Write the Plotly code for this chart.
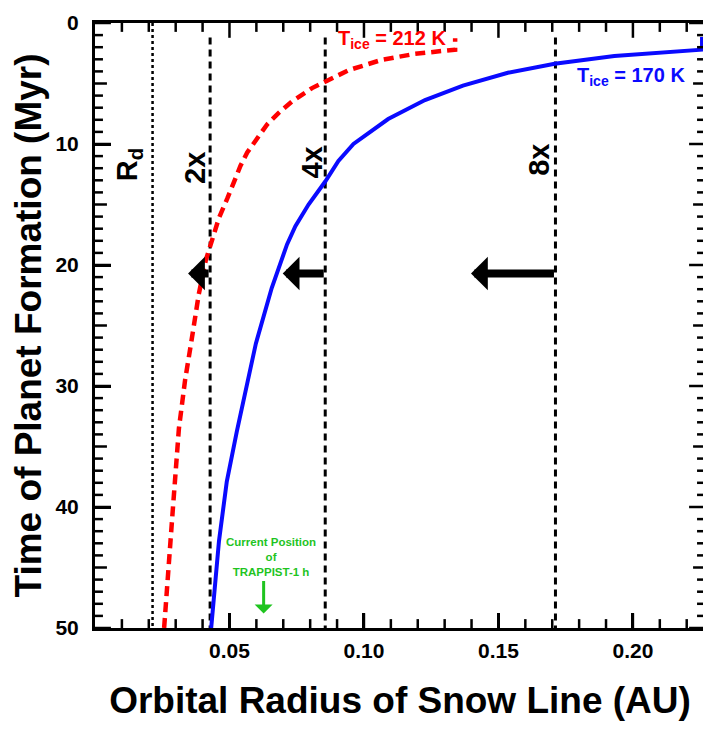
import plotly.graph_objects as go

# ---- data ----
blue_x = [0.0432, 0.0461, 0.0490, 0.0527, 0.0598, 0.0657, 0.0714, 0.0745, 0.0794,
          0.0856, 0.0905, 0.0961, 0.1090, 0.1227, 0.1368, 0.1535, 0.1709, 0.1931,
          0.2257, 0.2257]
blue_y = [50.0, 42.8, 37.9, 33.8, 26.5, 21.9, 18.3, 16.8, 15.0,
          13.1, 11.4, 10.0, 7.94, 6.37, 5.17, 4.11, 3.37, 2.72,
          2.2, 1.15]

red_x = [0.0257, 0.0275, 0.0290, 0.0312, 0.0335, 0.0357, 0.0386, 0.0412, 0.0436,
         0.0461, 0.0492, 0.0517, 0.0541, 0.0566, 0.0603, 0.0640, 0.0683, 0.0733,
         0.0807, 0.0856, 0.0899, 0.0943, 0.1065, 0.1190, 0.1339, 0.1339]
red_y = [50.0, 43.9, 40.0, 33.5, 29.5, 26.5, 22.4, 19.6, 17.8,
         16.1, 14.5, 13.0, 11.8, 10.7, 9.47, 8.38, 7.43, 6.47,
         5.38, 4.84, 4.29, 3.9, 3.05, 2.55, 2.2, 1.25]

guide_labels = ["R<sub>d</sub>", "2x", "4x", "8x"]
guide_x = [0.0214, 0.0428, 0.0856, 0.1712]
guide_top = [0.0, 1.2, 1.2, 1.2]
guide_bottom = 50.0

arrow_tip_x = [0.0346, 0.0698, 0.1398]
arrow_tail_x = [0.0428, 0.0856, 0.1712]
arrow_y = 20.7

trappist_h_x = 0.0627

x_tickvals = [0.05, 0.10, 0.15, 0.20]
x_ticktext = ["0.05", "0.10", "0.15", "0.20"]
x_minor_ticks = [0.01, 0.02, 0.03, 0.04, 0.06, 0.07, 0.08, 0.09, 0.11, 0.12, 0.13,
                 0.14, 0.16, 0.17, 0.18, 0.19, 0.21, 0.22]
y_major_ticks = [0, 10, 20, 30, 40, 50]
y_mid_ticks = [5, 15, 25, 35, 45]
y_minor_ticks = [v for v in range(1, 50) if v % 5 != 0]

FONT = "Liberation Sans, Arial, sans-serif"

# figure geometry (the page body adds an 8px margin, so the figure is sized to fit)
W, H = 703, 721
ML, MR, MT, MB = 87, 3, 7, 101
X_RANGE = [0, 0.2268]
Y_RANGE = [50, 0]
px_per_x = (W - ML - MR) / (X_RANGE[1] - X_RANGE[0])
px_per_y = (H - MT - MB) / (Y_RANGE[0] - Y_RANGE[1])

fig = go.Figure()

# guide lines
for i, gx in enumerate(guide_x):
    fig.add_trace(go.Scatter(
        x=[gx, gx], y=[guide_top[i], guide_bottom], mode="lines",
        line=dict(color="black", width=2.5 if i == 0 else 3,
                  dash="3px,3px" if i == 0 else "7px,5px"),
        hoverinfo="skip", showlegend=False))

# snow-line curves
fig.add_trace(go.Scatter(x=red_x, y=red_y, mode="lines",
                         line=dict(color="#ff0000", width=4.5, dash="10px,6px"),
                         showlegend=False))
fig.add_trace(go.Scatter(x=blue_x, y=blue_y, mode="lines",
                         line=dict(color="#0a0aff", width=4),
                         showlegend=False))

# inward tick marks on all four sides of the frame, one short segment each
TICK_LINE = dict(color="black", width=2.5)
for vals, length in [(x_tickvals, 15), (x_minor_ticks, 9)]:
    d = length / px_per_y
    for v in vals:
        fig.add_trace(go.Scatter(x=[v, v], y=[Y_RANGE[0], Y_RANGE[0] - d], mode="lines",
                                 line=TICK_LINE, hoverinfo="skip", showlegend=False))
        fig.add_trace(go.Scatter(x=[v, v], y=[Y_RANGE[1], Y_RANGE[1] + d], mode="lines",
                                 line=TICK_LINE, hoverinfo="skip", showlegend=False))
for vals, length in [(y_major_ticks, 16), (y_mid_ticks, 12), (y_minor_ticks, 8)]:
    d = length / px_per_x
    for v in vals:
        fig.add_trace(go.Scatter(x=[X_RANGE[0], X_RANGE[0] + d], y=[v, v], mode="lines",
                                 line=TICK_LINE, hoverinfo="skip", showlegend=False))
        fig.add_trace(go.Scatter(x=[X_RANGE[1], X_RANGE[1] - d], y=[v, v], mode="lines",
                                 line=TICK_LINE, hoverinfo="skip", showlegend=False))

annotations = []
# rotated guide labels
label_pos = [(0.0125, 11.7), (0.0371, 12.0), (0.0806, 11.55), (0.1651, 11.3)]
for lab, (lx, ly) in zip(guide_labels, label_pos):
    annotations.append(dict(x=lx, y=ly, xref="x", yref="y", text=lab, showarrow=False,
                            textangle=-90,
                            font=dict(family=FONT, size=29, color="black", weight="bold")))

# migration arrows
for tip, tail in zip(arrow_tip_x, arrow_tail_x):
    annotations.append(dict(x=tip, y=arrow_y, ax=tail, ay=arrow_y, xref="x", yref="y",
                            axref="x", ayref="y", text="", showarrow=True,
                            arrowhead=1, arrowwidth=8, arrowsize=0.7,
                            arrowcolor="black"))

# T_ice labels
annotations.append(dict(x=0.1106, y=1.4, xref="x", yref="y",
                        text="T<sub>ice</sub> = 212 K", showarrow=False,
                        font=dict(family=FONT, size=20, color="#ff0000", weight="bold")))
annotations.append(dict(x=0.1993, y=4.45, xref="x", yref="y",
                        text="T<sub>ice</sub> = 170 K", showarrow=False,
                        font=dict(family=FONT, size=20, color="#0a0aff", weight="bold")))

# TRAPPIST-1 h marker
annotations.append(dict(x=0.0654, y=44.1, xref="x", yref="y",
                        text="Current Position<br>of<br>TRAPPIST-1 h", showarrow=False,
                        font=dict(family=FONT, size=11.5, color="#1fc41f", weight="bold")))
annotations.append(dict(x=trappist_h_x, y=48.8, ax=trappist_h_x, ay=46.0,
                        xref="x", yref="y", axref="x", ayref="y", text="",
                        showarrow=True, arrowhead=1, arrowwidth=3, arrowsize=1.0,
                        arrowcolor="#1fc41f"))

fig.update_layout(
    width=W, height=H,
    margin=dict(l=ML, r=MR, t=MT, b=MB),
    paper_bgcolor="white", plot_bgcolor="white",
    showlegend=False,
    annotations=annotations,
    font=dict(family=FONT, color="black"),
)

fig.update_xaxes(
    range=X_RANGE, showgrid=False, zeroline=False,
    showline=True, linecolor="black", linewidth=3, mirror=True,
    ticks="inside", ticklen=15, tickwidth=2.5, tickcolor="black",
    tickmode="array", tickvals=x_tickvals, ticktext=x_ticktext,
    ticklabelstandoff=2, ticklabeloverflow="allow",
    tickfont=dict(family=FONT, size=21, color="black", weight="bold"),
    title=dict(text="Orbital Radius of Snow Line (AU)", standoff=26,
               font=dict(family=FONT, size=37, color="black", weight="bold")),
)
fig.update_yaxes(
    range=Y_RANGE, showgrid=False, zeroline=False,
    showline=True, linecolor="black", linewidth=3, mirror=True,
    ticks="inside", ticklen=16, tickwidth=2.5, tickcolor="black",
    tickmode="linear", tick0=0, dtick=10,
    ticklabelstandoff=9, ticklabeloverflow="allow",
    tickfont=dict(family=FONT, size=21, color="black", weight="bold"),
    title=dict(text="Time of Planet Formation (Myr)", standoff=13,
               font=dict(family=FONT, size=37, color="black", weight="bold")),
)

fig.write_html("out.html")
